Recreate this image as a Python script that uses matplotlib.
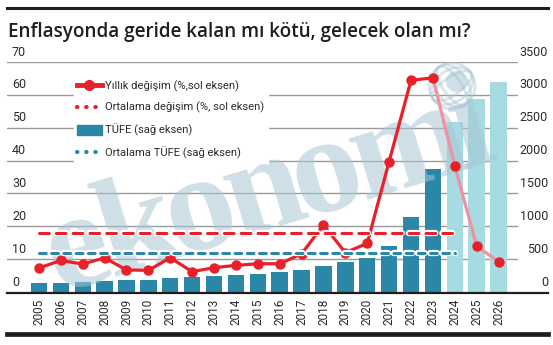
import matplotlib
matplotlib.use("Agg")
import numpy as np
import matplotlib.pyplot as plt
import matplotlib.transforms as mtransforms
import matplotlib.patheffects as pe
from matplotlib.lines import Line2D
from matplotlib.patches import Rectangle, Ellipse

years = list(range(2005, 2027))
yillik = [7.3, 9.6, 8.5, 10.4, 6.7, 6.6, 10.4, 6.2, 7.4, 8.1, 8.6,
          8.6, 11.6, 20.4, 12.0, 14.8, 39.7, 64.4, 65.2, 38.4, 14.0, 9.2]
tufe = [140, 142, 157, 172, 188, 190, 218, 233, 246, 260, 279,
        309, 340, 398, 462, 523, 700, 1143, 1870, 2580, 2940, 3200]
first_forecast = 2024
ort_degisim = 18.1
ort_tufe = 600
left_ticks = [0, 10, 20, 30, 40, 50, 60, 70]
right_ticks = [0, 500, 1000, 1500, 2000, 2500, 3000, 3500]

RED = "#e8202a"
PINK = "#f1909e"
TEAL = "#2a87a8"
LIGHT = "#a6dbe1"
GRID = "#9a9a9a"
TXT = "#2b2b2b"
WM = "#a9c6d4"
FONT = ["Roboto", "DejaVu Sans"]

W, H = 553, 345
fig = plt.figure(figsize=(W / 100, H / 100), dpi=100)
plt.rcParams["font.family"] = FONT


def px(x0, y0, w, h):
    return [x0 / W, (H - y0 - h) / H, w / W, h / H]


# bars on the bottom axes (right scale), lines on a twin on top (left scale)
ax = fig.add_axes(px(7, 62, 511, 230))
ax2 = ax.twinx()
ax.set_ylim(0, 3500)
ax2.set_ylim(0, 70)
xlim = (2003.54, 2026.89)
ax.set_xlim(*xlim)
ax2.set_xlim(*xlim)
for a in (ax, ax2):
    for s in a.spines.values():
        s.set_visible(False)
    a.tick_params(axis="y", left=False, right=False, labelleft=False, labelright=False)
ax2.tick_params(axis="x", bottom=False, labelbottom=False)

for t in right_ticks[1:]:
    ax.axhline(t, color=GRID, lw=1.0, zorder=0)

colors = [LIGHT if y >= first_forecast else TEAL for y in years]
ax.bar(years, tufe, width=0.75, color=colors, zorder=2)

ax.set_xticks(years)
ax.set_xticklabels([str(y) for y in years], rotation=90, fontsize=8.5, color=TXT)
ax.tick_params(axis="x", length=0, pad=5)
for lab in ax.get_xticklabels():
    lab.set_va("top")

# axis value labels sit just above their gridlines
lt = mtransforms.blended_transform_factory(ax.transAxes, ax2.transData)
rt = mtransforms.blended_transform_factory(ax.transAxes, ax.transData)
off = mtransforms.ScaledTranslation(0, 2.5 / 72, fig.dpi_scale_trans)
for v in left_ticks:
    ax2.text(5 / 511, v, str(v), transform=lt + off, ha="left", va="bottom",
             fontsize=9, color=TXT)
for v in right_ticks:
    ax2.text(541 / 511, v, str(v), transform=rt + off, ha="right", va="bottom",
             fontsize=9, color=TXT)

# faint brand watermark, above the bars but under the lines;
# letters set one by one so they can sit tighter than the font's spacing
wm_size = 100
em = wm_size * fig.dpi / 72
advance = {"e": 0.444, "k": 0.556, "o": 0.5, "n": 0.556, "m": 0.833, "i": 0.278}
ang = 17
d = np.array([np.cos(np.radians(ang)), np.sin(np.radians(ang))])
pos = np.array([58.0, H - 293.0])
for ch in "ekonomi":
    ax2.text(pos[0], pos[1], ch, transform=mtransforms.IdentityTransform(),
             rotation=ang, rotation_mode="anchor", ha="left", va="baseline",
             fontsize=wm_size, fontweight="bold",
             family=["Liberation Serif", "DejaVu Serif"], color=WM,
             alpha=0.55, zorder=3)
    pos = pos + d * advance[ch] * em * 0.9
gx, gy = 452, H - 86
for w_, h_, a_ in [(46, 46, 0), (46, 18, 35), (46, 32, 35), (18, 46, 35), (32, 46, 35)]:
    ax2.add_artist(Ellipse((gx, gy), w_, h_, angle=a_, fill=False, lw=2.0,
                           ec=WM, alpha=0.45,
                           transform=mtransforms.IdentityTransform(), zorder=3))

ix = years.index(first_forecast) - 1
ax2.plot(years[:ix + 1], yillik[:ix + 1], color=RED, lw=2.3, zorder=5,
         solid_joinstyle="round")
ax2.plot(years[ix:], yillik[ix:], color=PINK, lw=2.3, zorder=5)
ax2.plot(years, yillik, ls="none", marker="o", ms=6.5, color=RED, zorder=6)

halo = [pe.Stroke(linewidth=4.5, foreground="white"), pe.Normal()]
ax2.plot([2005, 2024], [ort_degisim] * 2, color=RED, lw=2.2, zorder=7,
         dashes=(3.2, 2.3), dash_capstyle="round", path_effects=halo)
ax2.plot([2005, 2024], [ort_tufe] * 2, transform=ax.transData, color=TEAL,
         lw=2.2, zorder=7, dashes=(2.2, 1.8), dash_capstyle="round",
         path_effects=halo)

handles = [
    Line2D([], [], color=RED, lw=3.5, marker="o", ms=7),
    Line2D([], [], color=RED, lw=3, dashes=(0.1, 2.1), dash_capstyle="round"),
    Rectangle((0, 0), 1, 1, color=TEAL),
    Line2D([], [], color=TEAL, lw=3, dashes=(0.1, 2.1), dash_capstyle="round"),
]
labels = ["Yıllık değişim (%,sol eksen)", "Ortalama değişim (%, sol eksen)",
          "TÜFE (sağ eksen)", "Ortalama TÜFE (sağ eksen)"]
leg = ax2.legend(handles, labels, loc="upper left",
                 bbox_to_anchor=(68 / W, 1 - 71 / H), bbox_transform=fig.transFigure,
                 prop={"family": FONT, "size": 8.1}, numpoints=1,
                 handlelength=2.2, handleheight=0.9, handletextpad=0.3,
                 labelspacing=0.93, borderpad=0.3, frameon=True, fancybox=False,
                 framealpha=1, edgecolor="white", facecolor="white")
leg.set_zorder(10)
for t in leg.get_texts():
    t.set_color(TXT)

# frame rules and title
fig.add_artist(Line2D([7 / W, 548 / W], [1 - 7.5 / H] * 2, color="#1e1e1e", lw=2.2))
fig.add_artist(Line2D([7 / W, 548 / W], [1 - 292.5 / H] * 2, color="#1e1e1e", lw=1.6, zorder=8))
fig.add_artist(Line2D([7 / W, 548 / W], [1 - 333.5 / H] * 2, color="#1e1e1e", lw=3.4))
fig.text(8 / W, 1 - 37 / H, "Enflasyonda geride kalan mı kötü, gelecek olan mı?",
         ha="left", va="baseline", fontsize=13.6, fontweight="semibold",
         family=["Open Sans", "DejaVu Sans"], color="#1e1e1e")

fig.savefig("out.png", dpi=100, facecolor="white")
